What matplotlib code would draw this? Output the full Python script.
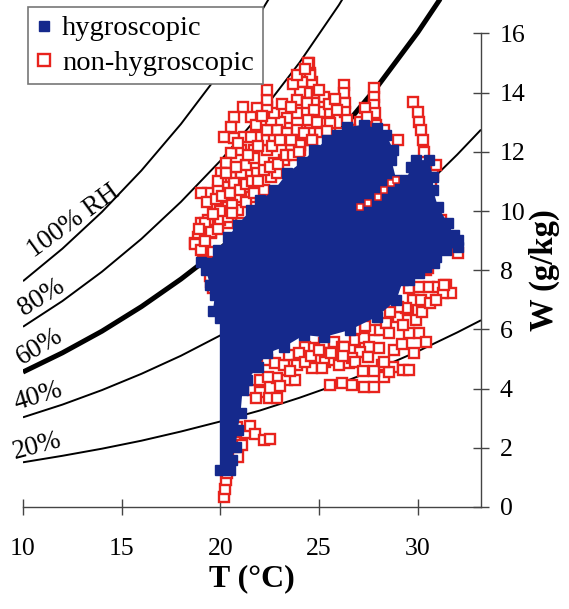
import matplotlib
matplotlib.use('Agg')
import matplotlib.pyplot as plt

plt.rcParams['font.family'] = ['Liberation Serif', 'DejaVu Serif']

# RH curves (W in g/kg)
t_curve = [10, 12, 14, 16, 18, 20, 22, 24, 26, 28, 30, 32, 33.2]
w_100 = [7.63, 8.73, 9.97, 11.37, 12.94, 14.70, 16.67, 18.88]
w_80 = [6.09, 6.96, 7.95, 9.06, 10.31, 11.70, 13.27, 15.01, 16.96, 19.15]
w_60 = [4.56, 5.21, 5.94, 6.77, 7.70, 8.73, 9.90, 11.19, 12.64, 14.25, 16.04, 18.03]
w_40 = [3.03, 3.46, 3.95, 4.50, 5.11, 5.80, 6.56, 7.42, 8.37, 9.43, 10.60, 11.91, 12.75]
w_20 = [1.51, 1.73, 1.97, 2.24, 2.55, 2.89, 3.26, 3.69, 4.16, 4.68, 5.26, 5.90, 6.31]

rh_labels = ['100% RH', '80%', '60%', '40%', '20%']
rh_label_t = [12.55, 10.95, 10.85, 10.75, 10.7]
rh_label_w = [9.65, 7.08, 5.43, 3.74, 2.05]
rh_label_rot = [36, 32, 31, 17, 15]

# hygroscopic: outline of the dense blue cloud (T, W)
hyg_t = [20.48, 19.97, 19.97, 19.62, 19.72, 19.47, 19.27, 19.02, 19.37, 19.87, 20.37,
         20.87, 21.53, 22.03, 22.73, 23.38, 24.14, 24.74, 25.39, 25.90, 26.40, 27.25,
         27.91, 28.41, 28.76, 28.66, 28.91, 29.41, 29.66, 29.91, 30.56, 30.77, 30.77,
         31.02, 31.52, 31.82, 32.02, 32.02, 31.42, 30.92, 30.82, 30.41, 30.06, 29.56,
         29.26, 28.91, 27.91, 26.55, 25.24, 24.24, 23.23, 22.38, 21.88, 21.37, 21.12,
         21.02, 20.87, 20.77, 20.57]
hyg_w = [1.25, 1.25, 6.39, 6.62, 7.16, 7.50, 8.01, 8.28, 8.24, 8.68, 9.12,
         9.53, 10.03, 10.37, 10.71, 11.28, 11.66, 12.06, 12.40, 12.57, 12.84, 12.91,
         12.80, 12.57, 12.06, 11.72, 11.05, 11.05, 11.49, 11.72, 11.72, 11.15, 10.71,
         10.14, 9.59, 9.19, 9.02, 8.78, 8.68, 8.45, 8.24, 8.11, 7.91, 7.67,
         7.67, 6.99, 6.42, 5.98, 5.74, 5.81, 5.41, 5.20, 4.73, 4.29, 3.95,
         3.18, 2.60, 2.03, 1.59]

# non-hygroscopic points (T, W)
non_t = [20.2, 20.25, 20.3, 20.35, 20.4, 20.6, 20.75, 20.85, 20.9, 21.1, 21.3,
         21.5, 21.75, 22.2, 22.5,
         21.63, 22.03, 22.48, 22.89, 21.78, 22.38, 22.78, 23.23, 23.49, 23.89, 22.89,
         23.39, 23.79, 24.29, 24.74, 25.24, 25.75, 26.15, 24.89, 25.29, 25.75, 26.0,
         26.5, 24.64, 25.14, 25.54, 26.15, 26.65, 27.25, 27.76, 28.26, 28.76, 29.26,
         29.56, 28.16, 28.56, 26.25, 26.80, 27.25, 27.76, 28.06, 28.41, 29.01, 29.51,
         29.91, 30.06, 30.41, 29.56, 29.26, 28.56, 27.55, 27.05, 26.65, 27.5, 28.01,
         29.56, 30.06, 30.56, 31.02, 31.42, 31.67, 31.27, 29.76, 30.16, 29.41, 29.01,
         30.4, 30.51, 32.02, 31.17, 30.82, 30.41, 30.77, 30.67, 30.9,
         29.76, 30.01, 30.06, 30.16, 30.26, 30.31, 29.01,
         27.76, 27.76, 27.76, 27.81, 27.86, 28.26,
         26.25, 26.25, 26.30, 26.30, 26.40, 26.65, 27.05, 27.3, 25.49, 25.04, 24.64,
         24.04, 26.05, 26.55, 27.4,
         24.49, 24.54, 24.64, 24.39, 24.89, 25.24, 24.74, 25.04, 24.54, 24.14, 25.14,
         25.54,
         24.46, 24.55, 24.14, 24.05, 23.89, 24.39, 24.72, 24.46, 23.89, 23.38, 23.04,
         22.88, 23.38, 23.89, 24.22, 24.64, 24.05, 23.55, 23.22, 22.71, 22.38, 22.21,
         21.87, 22.38, 22.54, 22.71, 22.38, 22.38, 22.34, 21.87, 21.54, 21.12, 20.70,
         20.53, 20.20, 20.70, 21.21, 21.54, 21.71, 21.04, 20.53, 20.28, 20.03, 20.53,
         21.04, 21.29, 21.71, 21.87, 21.21, 20.70, 20.20, 19.86, 19.36, 19.03, 19.70,
         20.37, 20.87, 21.54, 22.21, 22.54, 22.88, 20.03, 19.36, 19.03, 18.86, 18.69,
         19.53, 20.37, 20.87, 21.04,
         19.5, 19.5, 19.45, 18.7, 19.0, 19.1, 19.45, 19.6, 19.2, 19.5, 20.0, 20.4,
         19.3, 19.8, 20.1, 20.5, 20.6, 21.0, 21.3, 21.6, 21.9, 22.2, 22.5, 22.9,
         23.3, 23.7, 24.0, 19.9, 20.3, 20.8, 21.4, 21.9, 22.6, 23.0, 23.6, 20.9,
         21.8, 22.1, 23.1, 23.6, 23.7, 23.9, 24.3, 25.0, 25.5, 25.9, 25.8, 24.9,
         25.4, 20.0, 19.6, 19.9, 20.6, 21.3, 21.7, 19.2, 19.6, 18.9,
         22.0, 22.4, 23.0, 23.5, 24.0, 24.3, 24.6, 25.0, 25.6, 26.2, 26.8, 27.2,
         27.8, 28.3, 28.8, 29.2, 29.8, 30.2, 30.6, 30.9, 31.3, 28.6, 27.3, 26.8,
         21.8, 21.2]
non_w = [0.35, 0.6, 0.9, 1.15, 1.4, 1.75, 2.2, 2.7, 1.7, 2.1, 2.5,
         2.75, 2.45, 2.25, 2.3,
         3.95, 3.89, 3.68, 3.68, 3.68, 4.97, 4.86, 4.80, 5.14, 4.80, 4.36,
         4.29, 4.29, 5.41, 5.37, 5.54, 5.57, 5.41, 4.97, 4.90, 4.97, 4.80,
         4.86, 4.70, 4.70, 4.12, 4.19, 4.12, 4.05, 4.05, 4.39, 4.73, 4.63,
         4.63, 4.80, 4.56, 5.41, 5.64, 5.71, 5.98, 5.98, 6.22, 6.42, 6.66,
         6.32, 5.88, 5.57, 5.88, 6.15, 5.88, 5.41, 5.24, 5.03, 5.07, 5.37,
         7.40, 7.43, 7.43, 7.43, 7.50, 7.23, 7.23, 6.99, 6.99, 6.72, 6.76,
         8.0, 8.07, 8.58, 9.70, 9.97, 10.30, 11.22, 10.95, 11.55,
         13.68, 13.34, 13.0, 12.74, 12.4, 11.99, 12.4,
         14.16, 13.85, 13.58, 13.31, 12.91, 12.74,
         14.26, 13.99, 13.65, 13.34, 13.07, 12.74, 13.01, 13.48, 13.01, 12.67, 12.40,
         12.06, 12.64, 12.74, 13.18,
         15.0, 14.66, 14.36, 13.99, 13.99, 13.85, 13.65, 13.34, 12.97, 12.5, 12.97,
         12.97,
         14.99, 14.59, 14.37, 14.03, 13.75, 13.64, 13.41, 13.07, 13.30, 13.13, 13.02,
         12.74, 12.62, 12.74, 12.62, 12.40, 12.23, 12.06, 11.72, 11.61, 12.06, 12.40,
         12.51, 12.74, 13.07, 13.30, 13.52, 13.75, 14.09, 13.47, 13.19, 13.52, 13.19,
         12.85, 12.51, 12.46, 12.51, 12.51, 12.06, 12.06, 11.95, 11.61, 11.27, 11.16,
         11.27, 11.55, 11.78, 11.27, 10.82, 10.94, 10.82, 10.71, 10.60, 10.60, 10.15,
         10.15, 10.48, 10.48, 10.71, 11.16, 11.27, 9.81, 9.70, 9.58, 9.13, 8.91,
         9.25, 9.58, 10.03, 9.58,
         7.6, 7.85, 8.2, 8.9, 8.7, 8.3, 7.8, 7.4, 9.6, 9.3, 9.7, 9.8,
         10.3, 10.4, 10.5, 10.6, 10.2, 10.7, 10.9, 11.0, 11.0, 11.4, 11.5, 11.6,
         11.9, 11.9, 12.0, 11.0, 11.3, 11.5, 11.9, 12.2, 12.2, 12.4, 12.4, 12.3,
         12.9, 13.2, 13.6, 13.5, 14.3, 14.6, 14.8, 14.1, 13.6, 13.4, 13.8, 13.0,
         12.7, 10.0, 9.9, 9.4, 9.95, 10.3, 10.6, 9.0, 8.6, 9.4,
         4.3, 4.4, 4.1, 4.6, 5.2, 4.9, 5.1, 5.3, 5.2, 5.1, 4.9, 4.6,
         4.6, 4.9, 5.3, 5.5, 5.2, 6.6, 6.9, 7.0, 7.5, 6.6, 6.1, 6.0,
         4.9, 4.4]

# non-hygroscopic points seen through a gap in the blue cloud
gap_t = [27.05, 27.5, 28.0, 28.3, 28.65, 28.9]
gap_w = [10.14, 10.27, 10.47, 10.71, 10.95, 11.05]

blue = '#15298c'
red = '#e8231d'

fig = plt.figure(figsize=(5.69, 6.09), dpi=100)
ax = fig.add_axes([0.0404, 0.1675, 0.805, 0.8325])

for w, lw in zip([w_100, w_80, w_60, w_40, w_20], [1.4, 1.4, 3.6, 1.4, 1.4]):
    ax.plot(t_curve[:len(w)], w, color='black', lw=lw, zorder=1,
            solid_capstyle='butt')

for lab, tx, wy, rot in zip(rh_labels, rh_label_t, rh_label_w, rh_label_rot):
    ax.text(tx, wy, lab, fontsize=19.5, rotation=rot, rotation_mode='anchor',
            ha='center', va='center', zorder=5)

ax.plot(non_t, non_w, ls='none', marker='s', ms=7.0, mfc='white', mec=red,
        mew=1.7, zorder=2, label='non-hygroscopic')
ax.fill(hyg_t, hyg_w, color=blue, lw=0, zorder=3)
ax.plot(hyg_t, hyg_w, ls='none', marker='s', ms=6.5, color=blue, zorder=3,
        label='hygroscopic')
ax.plot(gap_t, gap_w, ls='none', marker='s', ms=4.0, mfc='white', mec=red,
        mew=1.1, zorder=4)

ax.set_xlim(10, 33.2)
ax.set_ylim(0, 17.13)
for s in ['left', 'top']:
    ax.spines[s].set_visible(False)
ax.spines['right'].set_bounds(0, 16)
ax.spines['bottom'].set_bounds(10, 33.2)
for s in ['right', 'bottom']:
    ax.spines[s].set_color('#444444')
    ax.spines[s].set_linewidth(1.0)

ax.set_xticks([10, 15, 20, 25, 30])
ax.set_yticks(range(0, 17, 2))
ax.yaxis.tick_right()
ax.tick_params(axis='both', direction='inout', length=11, width=1.0,
               color='#444444', labelsize=18.5)
ax.tick_params(axis='x', pad=17)
ax.tick_params(axis='y', pad=8)
ax.set_xlabel('T (°C)', fontsize=23, fontweight='bold', labelpad=3)
fig.text(544 / 569, 1 - 270 / 609, 'W (g/kg)', fontsize=23.5, fontweight='bold',
         rotation=90, ha='center', va='center')

handles, labels = ax.get_legend_handles_labels()
leg = ax.legend(handles[::-1], labels[::-1], loc='upper left',
                bbox_to_anchor=(28 / 569, 1 - 7 / 609), bbox_transform=fig.transFigure,
                fontsize=20.5, frameon=True, fancybox=False, edgecolor='#777777',
                framealpha=1, borderpad=0.3, handlelength=0.55, handletextpad=0.35,
                labelspacing=0.3, borderaxespad=0, markerscale=1.2)
leg.get_frame().set_linewidth(1.2)
leg.set_zorder(6)

fig.savefig('out.png', dpi=100)
